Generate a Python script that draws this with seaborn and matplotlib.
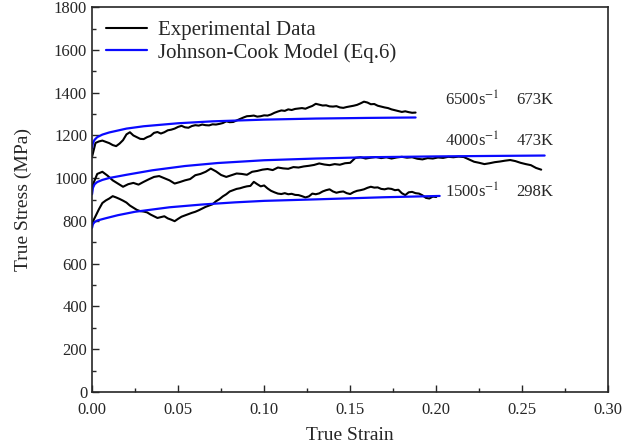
import numpy as np
import pandas as pd
import seaborn as sns
from matplotlib import pyplot as plt
from matplotlib.ticker import MultipleLocator

# experimental curves (stress in MPa), strain sampled at a fixed step
exp_6500 = [1100, 1165, 1172, 1176, 1170, 1164, 1155, 1150, 1162, 1178,
            1205, 1215, 1200, 1192, 1184, 1183, 1192, 1198, 1212, 1216,
            1209, 1215, 1224, 1227, 1232, 1240, 1245, 1238, 1236, 1244,
            1248, 1246, 1251, 1248, 1247, 1252, 1251, 1254, 1258, 1266,
            1262, 1263, 1270, 1277, 1284, 1290, 1291, 1293, 1288, 1290,
            1294, 1293, 1298, 1306, 1312, 1317, 1315, 1322, 1319, 1324,
            1326, 1328, 1325, 1332, 1338, 1348, 1344, 1340, 1341, 1336,
            1335, 1337, 1331, 1329, 1333, 1336, 1339, 1343, 1350, 1358,
            1354, 1346, 1347, 1339, 1335, 1331, 1328, 1322, 1318, 1314,
            1310, 1313, 1309, 1306, 1307]
step_6500 = 0.002

exp_4000 = [960, 1020, 1030, 1012, 990, 975, 960, 972, 978, 970,
            983, 995, 1006, 1010, 1000, 990, 975, 982, 990, 996,
            1014, 1020, 1030, 1045, 1032, 1015, 1006, 1014, 1022, 1020,
            1016, 1030, 1034, 1040, 1043, 1038, 1050, 1046, 1044, 1052,
            1050, 1055, 1058, 1062, 1069, 1064, 1061, 1066, 1063, 1070,
            1072, 1095, 1098, 1092, 1096, 1099, 1094, 1098, 1092, 1097,
            1100, 1096, 1098, 1091, 1088, 1094, 1092, 1097, 1095, 1100,
            1098, 1101, 1099, 1088, 1077, 1072, 1066, 1070, 1075, 1078,
            1082, 1085, 1080, 1072, 1066, 1061, 1048, 1040]
step_4000 = 0.003

exp_1500 = [790, 822, 855, 884, 896, 905, 916, 910, 903, 895,
            886, 872, 862, 852, 846, 844, 840, 830, 822, 814,
            818, 822, 812, 806, 799, 810, 820, 826, 832, 838,
            843, 850, 858, 866, 872, 878, 892, 902, 915, 925,
            938, 944, 950, 953, 958, 962, 964, 983, 972, 962,
            966, 952, 941, 934, 928, 926, 930, 925, 927, 922,
            921, 916, 910, 915, 928, 925, 929, 938, 944, 948,
            938, 932, 936, 938, 930, 926, 935, 941, 944, 948,
            955, 960, 956, 957, 950, 948, 952, 950, 944, 946,
            930, 921, 934, 936, 930, 928, 920, 908, 905, 914,
            912]
step_1500 = 0.002

# Johnson-Cook model curves
jc_6500_x = [0, 0.0005, 0.0015, 0.003, 0.006, 0.01, 0.02, 0.03, 0.05, 0.07, 0.1, 0.13, 0.16, 0.188]
jc_6500_y = [1140, 1165, 1180, 1192, 1204, 1214, 1232, 1243, 1257, 1266, 1274, 1279, 1282, 1284]
jc_4000_x = [0, 0.0005, 0.0015, 0.003, 0.006, 0.01, 0.02, 0.035, 0.054, 0.073, 0.1, 0.13, 0.16, 0.2, 0.23, 0.263]
jc_4000_y = [925, 955, 972, 982, 992, 1001, 1016, 1037, 1057, 1071, 1084, 1092, 1098, 1102, 1104, 1106]
jc_1500_x = [0, 0.0005, 0.0015, 0.003, 0.0076, 0.015, 0.025, 0.045, 0.064, 0.083, 0.1, 0.13, 0.17, 0.202]
jc_1500_y = [768, 785, 795, 802, 812, 827, 843, 864, 877, 887, 894, 901, 911, 917]

rates = ['6500s$^{-1}$', '4000s$^{-1}$', '1500s$^{-1}$']
temps = ['673K', '473K', '298K']
label_stress = [1365, 1173, 935]

sns.set_style('ticks')
plt.rcParams['font.family'] = ['Liberation Serif', 'DejaVu Serif']
plt.rcParams['mathtext.fontset'] = 'stix'

fig = plt.figure(figsize=(6.22, 4.48), dpi=100)
ax = fig.add_axes([0.148, 0.125, 0.83, 0.859])

exp_sets = [(exp_6500, step_6500), (exp_4000, step_4000), (exp_1500, step_1500)]
jc_sets = [(jc_6500_x, jc_6500_y), (jc_4000_x, jc_4000_y), (jc_1500_x, jc_1500_y)]

for i, (vals, step) in enumerate(exp_sets):
    df = pd.DataFrame({'strain': np.arange(len(vals)) * step, 'stress': vals})
    sns.lineplot(data=df, x='strain', y='stress', color='black', lw=1.5,
                 sort=False, estimator=None, ax=ax,
                 label='Experimental Data' if i == 0 else None)

for i, (xs, ys) in enumerate(jc_sets):
    df = pd.DataFrame({'strain': xs, 'stress': ys})
    sns.lineplot(data=df, x='strain', y='stress', color='#0a0aff', lw=1.6,
                 sort=False, estimator=None, ax=ax,
                 label='Johnson-Cook Model (Eq.6)' if i == 0 else None)

for r, t, s in zip(rates, temps, label_stress):
    ax.text(0.205, s, r, fontsize=12, va='center', ha='left')
    ax.text(0.2465, s, t, fontsize=12, va='center', ha='left')

ax.set_xlim(0, 0.30)
ax.set_ylim(0, 1800)
ax.xaxis.set_major_locator(MultipleLocator(0.05))
ax.xaxis.set_minor_locator(MultipleLocator(0.025))
ax.yaxis.set_major_locator(MultipleLocator(200))
ax.yaxis.set_minor_locator(MultipleLocator(100))
ax.set_xticklabels([f'{v:.2f}' for v in ax.get_xticks()])
ax.tick_params(which='both', direction='in', top=False, right=False, labelsize=12)
ax.tick_params(which='major', length=5, width=1)
ax.tick_params(which='minor', length=3, width=1)
ax.tick_params(axis='x', which='major', pad=7)
for sp in ax.spines.values():
    sp.set_visible(True)
    sp.set_linewidth(1.2)

ax.set_xlabel('True Strain', fontsize=14, labelpad=7)
ax.set_ylabel('True Stress (MPa)', fontsize=14, labelpad=16)

ax.legend(loc='upper left', frameon=False, fontsize=15, handlelength=2.0,
          handletextpad=0.5, labelspacing=0.12, borderaxespad=0.25)

fig.savefig('out.png', dpi=100)
